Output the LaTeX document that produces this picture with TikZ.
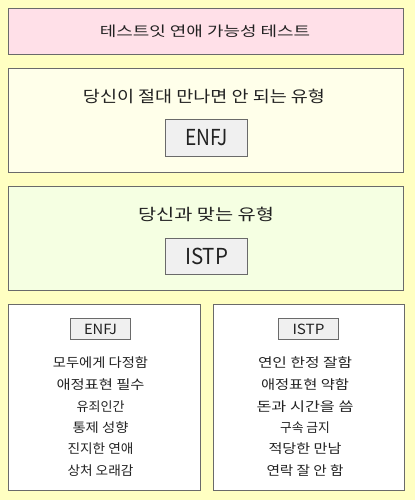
\documentclass[tikz,border=0pt]{standalone}
\usepackage{fontspec}
\usepackage{graphicx}
\newfontfamily\kr{Noto Sans CJK KR}
\definecolor{bgc}{HTML}{FFFFC2}
\definecolor{pinkc}{HTML}{FFE0E8}
\definecolor{creamc}{HTML}{FFFFEA}
\definecolor{greenc}{HTML}{F5FFE2}
\definecolor{greyc}{HTML}{F0F0F0}
\definecolor{linec}{HTML}{6A6A6A}
\definecolor{txtc}{HTML}{222222}
\newcommand\fw[2]{\resizebox{#1pt}{\height}{#2}}
\begin{document}
\begin{tikzpicture}[x=1pt,y=-1pt,
  panel/.style={draw=linec,line width=1pt,anchor=north west,inner sep=0pt},
  tagbox/.style={draw=linec,line width=1pt,fill=greyc,anchor=north west,inner sep=0pt},
  txt/.style={inner sep=0pt,text=txtc,font=\kr}]
\fill[bgc] (0,0) rectangle (415,500);
\path[use as bounding box] (0,0) rectangle (415,500);
% panels
\node[panel,fill=pinkc,minimum width=395pt,minimum height=46pt] (title) at (8,8) {};
\node[panel,fill=creamc,minimum width=395pt,minimum height=104pt] (avoid) at (8,68) {};
\node[panel,fill=greenc,minimum width=395pt,minimum height=104pt] (match) at (8,186) {};
\node[panel,fill=white,minimum width=192pt,minimum height=186pt] (left) at (8,304) {};
\node[panel,fill=white,minimum width=191pt,minimum height=186pt] (right) at (213,304) {};
% inner tag boxes
\node[tagbox,minimum width=82pt,minimum height=37pt] (enfjbox) at (165,119) {};
\node[tagbox,minimum width=82pt,minimum height=36pt] (istpbox) at (165,238) {};
\node[tagbox,minimum width=60pt,minimum height=21pt] (enfjsmall) at (70,318) {};
\node[tagbox,minimum width=60pt,minimum height=21pt] (istpsmall) at (278,318) {};
% texts
\node[txt,font=\kr\fontsize{14}{16}\selectfont] (t0) at (205,31) {\fw{210}{테스트잇 연애 가능성 테스트}};
\node[txt,font=\kr\fontsize{16}{18}\selectfont] (t1) at (204,96) {\fw{242}{당신이 절대 만나면 안 되는 유형}};
\node[txt,font=\kr\fontsize{22}{24}\selectfont] (t2) at (enfjbox.center) {\fw{43}{ENFJ}};
\node[txt,font=\kr\fontsize{16}{18}\selectfont] (t3) at (206,214) {\fw{136}{당신과 맞는 유형}};
\node[txt,font=\kr\fontsize{22}{24}\selectfont] (t4) at (istpbox.center) {\fw{43}{ISTP}};
\node[txt,font=\kr\fontsize{14}{16}\selectfont] (t5) at (enfjsmall.center) {\fw{33}{ENFJ}};
\node[txt,font=\kr\fontsize{14}{16}\selectfont] (t6) at (istpsmall.center) {\fw{32}{ISTP}};
% left list
\begin{scope}[every node/.style={txt,font=\kr\fontsize{13}{15}\selectfont}]
\node (l1) at (100.5,363) {\fw{95}{모두에게 다정함}};
\node (l2) at (100.5,385) {\fw{88}{애정표현 필수}};
\node (l3) at (100.5,407) {\fw{48}{유죄인간}};
\node (l4) at (100.5,428) {\fw{56}{통제 성향}};
\node (l5) at (100.5,449) {\fw{66}{진지한 연애}};
\node (l6) at (100.5,471) {\fw{66}{상처 오래감}};
\node (r1) at (305,363) {\fw{94}{연인 한정 잘함}};
\node (r2) at (305,385) {\fw{88}{애정표현 약함}};
\node (r3) at (305,407) {\fw{97}{돈과 시간을 씀}};
\node (r4) at (305,428) {\fw{50}{구속 금지}};
\node (r5) at (305,449) {\fw{73}{적당한 만남}};
\node (r6) at (305,471) {\fw{77}{연락 잘 안 함}};
\end{scope}
\end{tikzpicture}
\end{document}
